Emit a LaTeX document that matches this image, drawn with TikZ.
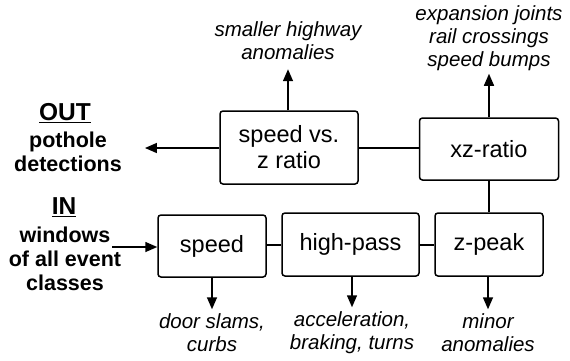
\documentclass[tikz,border=0pt]{standalone}
\usepackage{fontspec}
\setmainfont{Liberation Sans}
\usepackage{tikz}
\usetikzlibrary{arrows.meta,positioning}
\tikzset{>={Triangle[length=12pt,width=10pt]}}
\tikzset{
    stage/.style={draw, line width=1.5pt, rounded corners=3pt, align=center,
        inner sep=0pt, font=\fontsize{23.5}{26}\selectfont},
    note/.style={align=center, inner sep=1pt, font=\fontsize{20.5}{23}\selectfont\itshape},
    head/.style={inner sep=0pt, font=\fontsize{24.5}{28}\selectfont\bfseries},
    side/.style={align=center, inner sep=0pt, font=\fontsize{21.5}{24}\selectfont\bfseries},
    link/.style={line width=1.5pt},
}

\begin{document}
\begin{tikzpicture}[x=1pt, y=-1pt]
        \useasboundingbox (0,0) rectangle (570,360);

        % stages
        \node[stage, minimum width=138pt, minimum height=73pt] (svz) at (289,147.5) {speed vs.\\z ratio};
        \node[stage, minimum width=139pt, minimum height=62pt] (xz) at (489,149) {xz-ratio};
        \node[stage, minimum width=108pt, minimum height=62pt] (speed) at (212,246) {speed};
        \node[stage, minimum width=137pt, minimum height=63pt] (hp) at (350.5,244.5) {high-pass};
        \node[stage, minimum width=108pt, minimum height=63pt] (zp) at (489,244.5) {z-peak};

        % filtered out
        \node[note] (nsvz) at (288,41) {smaller highway\\anomalies};
        \node[note] (nxz) at (489,38) {expansion joints\\rail crossings\\speed bumps};
        \node[note] (nspeed) at (212,332.5) {door slams,\\curbs};
        \node[note] (nhp) at (352,332.5) {acceleration,\\braking, turns};
        \node[note] (nzp) at (488,332.5) {minor\\anomalies};

        % in / out
        \node[head] (outhead) at (65,113) {\underline{OUT}};
        \node[side] (outtxt) at (68,151.5) {pothole\\detections};
        \node[head] (inhead) at (64,207) {\underline{IN}};
        \node[side] (intxt) at (65,259) {windows\\of all event\\classes};
        \coordinate (infrom) at (112,247);

        \draw[link, ->] (infrom) -- (infrom -| speed.west);
        \draw[link] (speed.east |- 0,245) -- (hp.west |- 0,245);
        \draw[link] (hp.east |- 0,245) -- (zp.west |- 0,245);
        \draw[link] (zp.north) -- (xz.south);
        \draw[link] (xz.west |- 0,148) -- (svz.east |- 0,148);
        \draw[link, ->] (svz.west |- 0,148) -- ([xshift=23pt] outtxt.east |- 0,148);

        \draw[link, ->] (svz.north -| nsvz.south) -- ([yshift=-8pt] nsvz.south);
        \draw[link, ->] (xz.north -| nxz.south) -- ([yshift=-2pt] nxz.south);
        \draw[link, ->] (speed.south) -- ([yshift=3pt] nspeed.north);
        \draw[link, ->] (hp.south -| nhp.north) -- ([yshift=3pt] nhp.north);
        \draw[link, ->] (zp.south -| nzp.north) -- ([yshift=3pt] nzp.north);
    \end{tikzpicture}
\end{document}
